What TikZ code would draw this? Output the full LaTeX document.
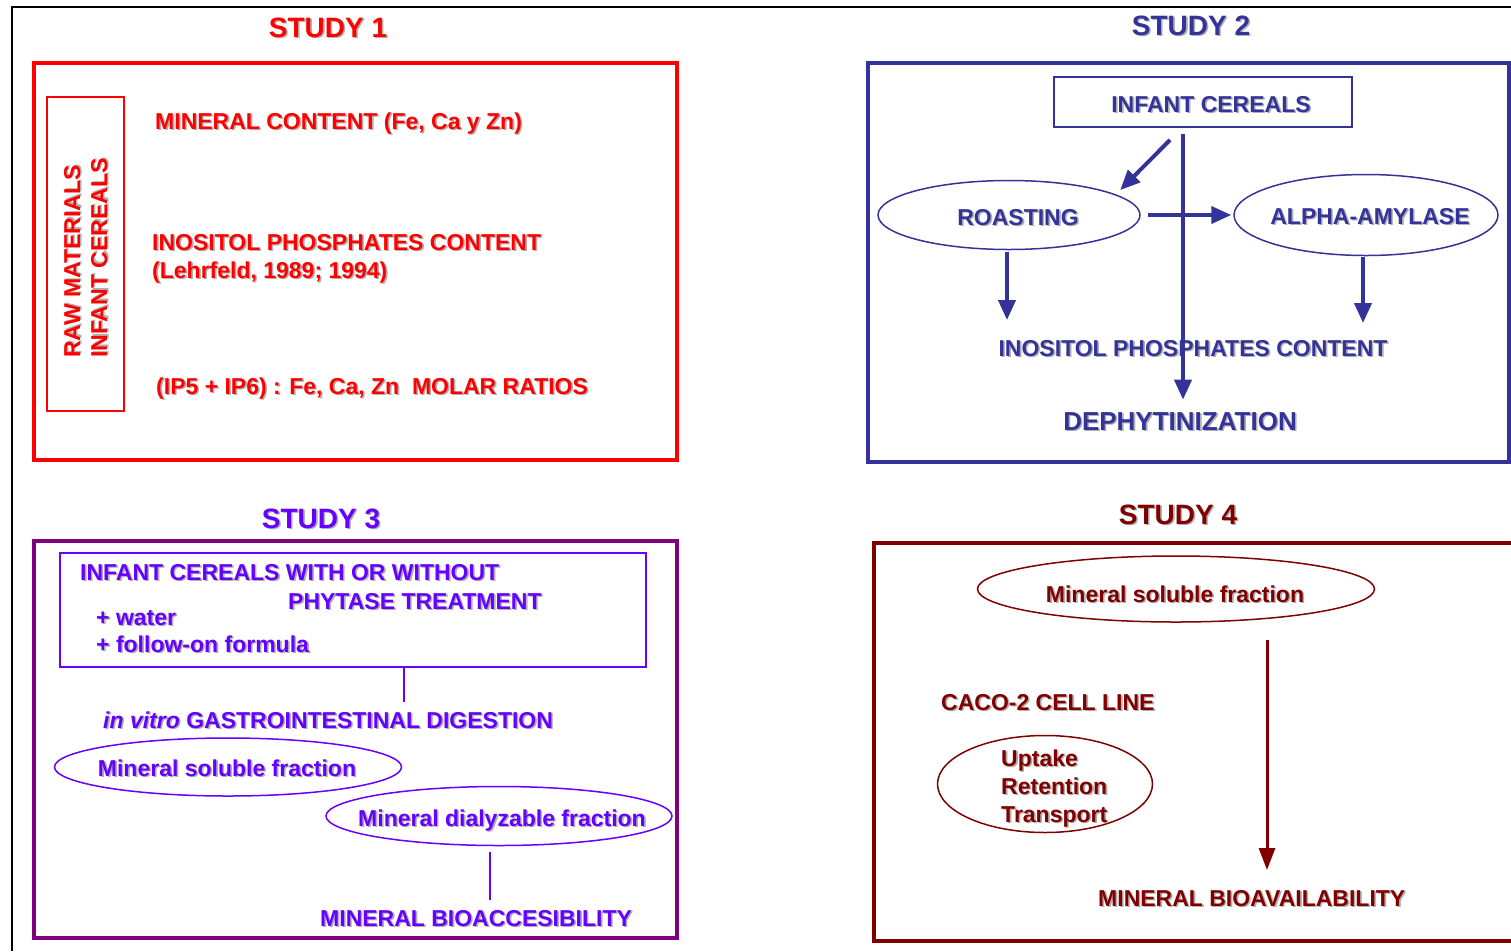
\documentclass[tikz,border=0pt]{standalone}
\usepackage{fontspec}
\setmainfont{Liberation Sans}
\usetikzlibrary{arrows.meta,shapes.geometric}
\definecolor{sred}{HTML}{FF0000}
\definecolor{sblue}{HTML}{333399}
\definecolor{spurp}{HTML}{800080}
\definecolor{sviol}{HTML}{6600FF}
\definecolor{smaroon}{HTML}{800000}
\definecolor{shadowgray}{HTML}{B0B0B0}
\newcommand\shd[1]{\leavevmode\rlap{\kern1.6pt\raisebox{-1.6pt}{\textcolor{shadowgray}{#1}}}#1}
\begin{document}
\begin{tikzpicture}[x=1pt,y=-1pt,
  txt/.style={inner sep=0pt, font=\fontsize{23}{27}\selectfont\bfseries},
  ttl/.style={inner sep=0pt, font=\fontsize{28}{32}\selectfont\bfseries, anchor=base},
  lw/.style={txt, anchor=base west},
  lc/.style={txt, anchor=base},
  studybox/.style={line width=3.5pt},
  oval/.style={ellipse, draw, line width=1.5pt, inner sep=0pt},
  arrB/.style={sblue, line width=4pt, -{Triangle[length=20pt,width=17pt]}},
  arrM/.style={smaroon, line width=3pt, -{Triangle[length=22pt,width=16pt]}},
  ln3/.style={sviol, line width=1.5pt}
]
\useasboundingbox (0,0) rectangle (1511,951);
\fill[white] (0,0) rectangle (1511,951);
% outer frame
\draw[black, line width=1.5pt] (12,951) -- (12,7) -- (1511,7);

% ---------------- STUDY 1 ----------------
\node[ttl, text=sred] (t1) at (328,37) {\shd{STUDY 1}};
\draw[sred, studybox] (34,63) rectangle (677,460);
\node[draw=sred, line width=2pt, minimum width=77pt, minimum height=314pt, inner sep=0pt] (rm) at (85.5,254) {};
\node[lw, text=sred, rotate=90] (rm1) at (80,358) {\shd{RAW MATERIALS}};
\node[lw, text=sred, rotate=90] (rm2) at (107,358) {\shd{INFANT CEREALS}};
\node[lw, text=sred] (mc) at (155,129) {\shd{MINERAL CONTENT (Fe, Ca y Zn)}};
\node[lw, text=sred] (ip) at (152,250) {\shd{INOSITOL PHOSPHATES CONTENT}};
\node[lw, text=sred] (lh) at (152,278) {\shd{(Lehrfeld, 1989; 1994)}};
\node[lw, text=sred] (mr) at (156,394) {\shd{(IP5 + IP6) : Fe, Ca, Zn\ \ MOLAR RATIOS}};

% ---------------- STUDY 2 ----------------
\node[ttl, text=sblue] (t2) at (1191,35) {\shd{STUDY 2}};
\draw[sblue, studybox] (868,63) rectangle (1509,462);
\node[draw=sblue, line width=2pt, minimum width=298pt, minimum height=50pt, inner sep=0pt] (ic) at (1203,102) {};
\node[lc, text=sblue] (ict) at (1211,112) {\shd{INFANT CEREALS}};
\node[oval, draw=sblue, minimum width=262pt, minimum height=69pt] (roast) at (1009,215) {};
\node[lc, text=sblue] (roastt) at (1018,225) {\shd{ROASTING}};
\node[oval, draw=sblue, minimum width=264pt, minimum height=81pt] (alpha) at (1366,215) {};
\node[lc, text=sblue] (alphat) at (1370,224) {\shd{ALPHA-AMYLASE}};
\node[lc, text=sblue] (ipc) at (1193,356) {\shd{INOSITOL PHOSPHATES CONTENT}};
\node[lc, text=sblue, font=\fontsize{26}{30}\selectfont\bfseries] (deph) at (1180,430) {\shd{DEPHYTINIZATION}};
\coordinate (vx) at (1183,0);
\draw[arrB, shorten <=6pt, shorten >=12pt] (ic.south -| vx) -- (deph.north -| vx);
\coordinate (dg) at (1170,140);
\draw[arrB] (dg) -- ([xshift=18pt]roast.north east);
\draw[arrB, shorten <=7pt, shorten >=2pt] (roast.east) -- (alpha.west);
\coordinate (rt) at (1007,320);
\draw[arrB, shorten <=2pt] (roast.south -| rt) -- (rt);
\coordinate (at) at (1363,323);
\draw[arrB, shorten <=1pt] (alpha.south -| at) -- (at);

% ---------------- STUDY 3 ----------------
\node[ttl, text=sviol] (t3) at (321,528) {\shd{STUDY 3}};
\draw[spurp, studybox] (34,541) rectangle (677,938);
\node[draw=sviol, line width=2pt, minimum width=586pt, minimum height=114pt, inner sep=0pt] (b3) at (353,610) {};
\node[lw, text=sviol] (ic3) at (80,580) {\shd{INFANT CEREALS WITH OR WITHOUT}};
\node[lw, text=sviol] (ph) at (288,609) {\shd{PHYTASE TREATMENT}};
\node[lw, text=sviol] (wa) at (96,625) {\shd{+ water}};
\node[lw, text=sviol] (fo) at (96,652) {\shd{+ follow-on formula}};
\node[lw, text=sviol] (gid) at (103,728) {\shd{\textit{in vitro} GASTROINTESTINAL DIGESTION}};
\node[oval, draw=sviol, minimum width=347pt, minimum height=58pt] (msf3) at (228,767) {};
\node[lc, text=sviol] (msf3t) at (227,776) {\shd{Mineral soluble fraction}};
\node[oval, draw=sviol, minimum width=346pt, minimum height=59pt] (mdf) at (499,816) {};
\node[lc, text=sviol] (mdft) at (502,826) {\shd{Mineral dialyzable fraction}};
\node[lw, text=sviol] (mba3) at (320,926) {\shd{MINERAL BIOACCESIBILITY}};
\coordinate (g1) at (404,702);
\draw[ln3] (b3.south -| g1) -- (g1);
\coordinate (g2) at (490,900);
\draw[ln3, shorten <=6pt] (mdf.south -| g2) -- (g2);

% ---------------- STUDY 4 ----------------
\node[ttl, text=smaroon] (t4) at (1178,524) {\shd{STUDY 4}};
\draw[smaroon, studybox] (1520,543) -- (874,543) -- (874,941) -- (1520,941);
\node[oval, draw=smaroon, minimum width=397pt, minimum height=66pt] (msf4) at (1176,589) {};
\node[lc, text=smaroon] (msf4t) at (1175,602) {\shd{Mineral soluble fraction}};
\node[lw, text=smaroon] (caco) at (941,710) {\shd{CACO-2 CELL LINE}};
\node[oval, draw=smaroon, minimum width=215pt, minimum height=97pt] (urt) at (1045,784) {};
\node[lw, text=smaroon] (up) at (1001,766) {\shd{Uptake}};
\node[lw, text=smaroon] (re) at (1001,794) {\shd{Retention}};
\node[lw, text=smaroon] (tr) at (1001,822) {\shd{Transport}};
\node[lw, text=smaroon] (mba4) at (1098,906) {\shd{MINERAL BIOAVAILABILITY}};
\coordinate (a4) at (1267,640);
\coordinate (a4t) at (1267,870);
\draw[arrM] (a4) -- (a4t);
\end{tikzpicture}
\end{document}
